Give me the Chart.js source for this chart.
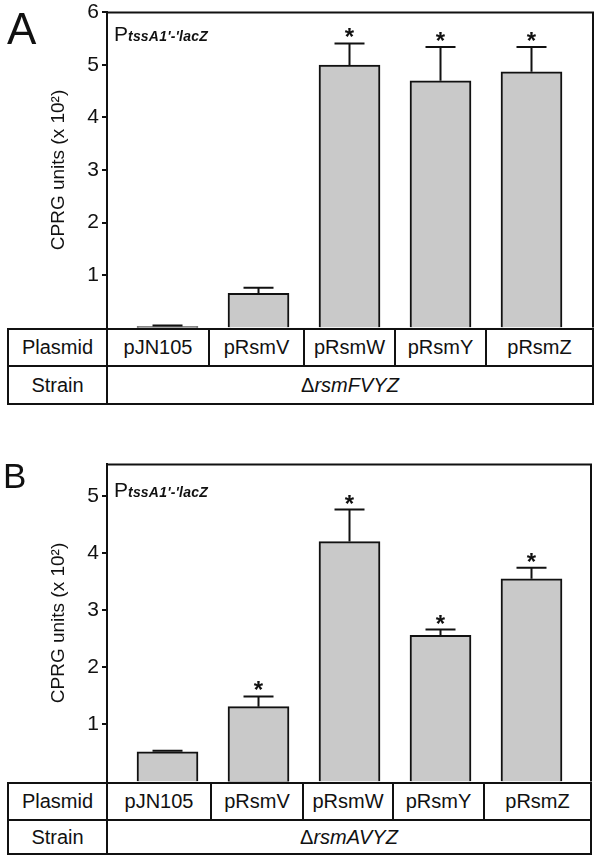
<!DOCTYPE html>
<html><head><meta charset="utf-8">
<script src="https://cdn.jsdelivr.net/npm/chart.js@4.4.1/dist/chart.umd.min.js"></script>
<style>
html,body{margin:0;padding:0;background:#fff;}
#root{position:relative;width:600px;height:859px;overflow:hidden;font-family:"Liberation Sans",Arial,sans-serif;color:#111;}
canvas{position:absolute;left:0;}
.cell{position:absolute;box-sizing:border-box;border:2px solid #111;background:#fff;display:flex;align-items:center;justify-content:center;font-size:20px;color:#111;white-space:nowrap;}
.panel{position:absolute;line-height:1;color:#111;}
.prom{position:absolute;font-size:21px;line-height:21px;left:114px;white-space:nowrap;}
.prom i{font-size:14px;font-weight:bold;letter-spacing:0.2px;}
</style></head>
<body><div id="root">
<canvas id="cA" width="600" height="340" style="top:0px"></canvas>
<canvas id="cB" width="600" height="342" style="top:452px"></canvas>
<div class="panel" style="left:7px;top:7px;font-size:44px;">A</div>
<div class="panel" style="left:3px;top:458px;font-size:35px;">B</div>
<div class="prom" style="top:23px">P<i>tssA1'-'lacZ</i></div>
<div class="prom" style="top:479px">P<i>tssA1'-'lacZ</i></div>
</div>
<script>
// ---- data ----
const plasmids = ['pJN105', 'pRsmV', 'pRsmW', 'pRsmY', 'pRsmZ'];
const meanA = [0.02, 0.65, 5.00, 4.70, 4.87];
const errA  = [0.02, 0.11, 0.41, 0.64, 0.47];
const sigA  = [false, false, true, true, true];
const meanB = [0.52, 1.31, 4.20, 2.56, 3.55];
const errB  = [0.02, 0.18, 0.56, 0.10, 0.19];
const sigB  = [false, true, true, true, true];
const ticksA = [1, 2, 3, 4, 5, 6];
const ticksB = [1, 2, 3, 4, 5];
const strainA = 'rsmFVYZ';
const strainB = 'rsmAVYZ';
const yTitle = 'CPRG units (x 10²)';

// ---- layout / style ----
const FONT = '"Liberation Sans", Arial, sans-serif';
const INK = '#111';

const errPlugin = {
  id: 'errbars',
  afterDatasetsDraw(chart, args, opts) {
    const ctx = chart.ctx;
    const meta = chart.getDatasetMeta(0);
    const ys = chart.scales.y;
    ctx.save();
    ctx.strokeStyle = INK; ctx.fillStyle = INK; ctx.lineWidth = 2;
    meta.data.forEach((bar, i) => {
      const v = opts.mean[i], e = opts.err[i];
      const yTop = ys.getPixelForValue(v + e);
      const yBar = ys.getPixelForValue(v);
      ctx.beginPath();
      ctx.moveTo(bar.x, yBar); ctx.lineTo(bar.x, yTop);
      ctx.moveTo(bar.x - 15, yTop); ctx.lineTo(bar.x + 15, yTop);
      ctx.stroke();
      if (opts.sig[i]) {
        ctx.font = 'bold 24px ' + FONT;
        ctx.textAlign = 'center'; ctx.textBaseline = 'alphabetic';
        ctx.fillText('*', bar.x, yTop + 2);
      }
    });
    ctx.restore();
  },
  afterDraw(chart) {
    const {ctx, chartArea: a} = chart;
    ctx.save();
    ctx.strokeStyle = INK; ctx.lineWidth = 2;
    ctx.beginPath();
    ctx.moveTo(a.left, a.top); ctx.lineTo(a.right, a.top); ctx.lineTo(a.right, a.bottom);
    ctx.stroke();
    ctx.restore();
  }
};

function build(id, mean, err, sig, ticks, ymax, right, padBottom) {
  return new Chart(document.getElementById(id), {
    type: 'bar',
    data: {datasets: [{
      data: mean.map((v, i) => ({x: i, y: v})),
      backgroundColor: '#c9c9c9', borderColor: INK, borderWidth: 2, barThickness: 61
    }]},
    options: {
      responsive: false, animation: false, devicePixelRatio: 1,
      layout: {padding: {top: 10, right: 600 - right, bottom: padBottom, left: 0}},
      plugins: {legend: {display: false}, tooltip: {enabled: false}, errbars: {mean, err, sig}},
      scales: {
        x: {type: 'linear', display: false, offset: false, grid: {offset: false},
            min: -0.665, max: 4 + (right - 531.5) / 91},
        y: {
          min: 0, max: ymax,
          afterFit(s) { s.width = 107; },
          afterBuildTicks(s) { s.ticks = ticks.map(v => ({value: v})); },
          ticks: {color: INK, font: {size: 21, family: FONT, lineHeight: 0.9}, padding: 3},
          grid: {drawOnChartArea: false, tickLength: 5, color: INK, lineWidth: 2},
          border: {color: INK, width: 2},
          title: {display: true, text: yTitle, color: INK,
            font: {size: 19, family: FONT}, padding: {top: 47, bottom: 0}}
        }
      }
    },
    plugins: [errPlugin]
  });
}
build('cA', meanA, errA, sigA, ticksA, 6, 593, 10.5);
build('cB', meanB, errB, sigB, ticksB, 5.55, 591, 11);

// ---- tables ----
const root = document.getElementById('root');
function cell(x0, x1, y0, y1, html) {
  const d = document.createElement('div');
  d.className = 'cell';
  d.style.left = (x0 - 1) + 'px'; d.style.top = (y0 - 1) + 'px';
  d.style.width = (x1 - x0 + 2) + 'px'; d.style.height = (y1 - y0 + 2) + 'px';
  d.innerHTML = html;
  root.appendChild(d);
}
function table(edges, rows, strain) {
  cell(edges[0], edges[1], rows[0], rows[1], 'Plasmid');
  plasmids.forEach((p, i) => cell(edges[i + 1], edges[i + 2], rows[0], rows[1], p));
  cell(edges[0], edges[1], rows[1], rows[2], 'Strain');
  cell(edges[1], edges[edges.length - 1], rows[1], rows[2], 'Δ<i>' + strain + '</i>');
}
table([8, 107, 209, 304, 395, 486, 593], [329, 366, 404], strainA);
table([8, 107, 211, 303, 393, 484, 591], [783, 820, 854], strainB);
</script>
</body></html>
